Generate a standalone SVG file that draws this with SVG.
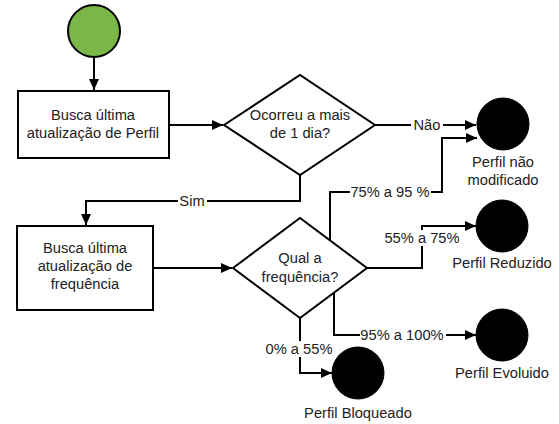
<svg xmlns="http://www.w3.org/2000/svg" width="559" height="424" viewBox="0 0 559 424">
<style>
text{font-family:"Liberation Sans",Arial,sans-serif;font-size:14.7px;fill:#222;text-anchor:middle;dominant-baseline:central}
.shape{fill:#fff;stroke:#000;stroke-width:2}
.end{fill:#000;stroke:#000;stroke-width:1}
.line{fill:none;stroke:#000;stroke-width:2}
.lbl{fill:#fff}
</style>
<defs>
<marker id="arr" markerWidth="12" markerHeight="12" refX="11" refY="6" orient="auto" markerUnits="userSpaceOnUse">
<path d="M0,1 L11,6 L0,11 Z" fill="#000"/>
</marker>
</defs>
<rect width="559" height="424" fill="#fff"/>
<g id="connectors">
<path class="line" d="M94,57 V90" marker-end="url(#arr)"/>
<path class="line" d="M169,125 H223" marker-end="url(#arr)"/>
<path class="line" d="M375,125 H476" marker-end="url(#arr)"/>
<path class="line" d="M300,175 V201 H86 V225" marker-end="url(#arr)"/>
<path class="line" d="M153,268 H232" marker-end="url(#arr)"/>
<path class="line" d="M330,240 V192 H442 V138 H477" marker-end="url(#arr)"/>
<path class="line" d="M367,268 H422 V226 H476" marker-end="url(#arr)"/>
<path class="line" d="M334,293 V335 H476" marker-end="url(#arr)"/>
<path class="line" d="M300,318 V373 H332" marker-end="url(#arr)"/>
<rect class="lbl" x="411" y="117" width="32" height="16"/>
<text x="427" y="125">Não</text>
<rect class="lbl" x="178" y="193" width="29" height="16"/>
<text x="192" y="201">Sim</text>
<rect class="lbl" x="350" y="184" width="81" height="16"/>
<text x="390" y="192">75% a 95 %</text>
<rect class="lbl" x="383" y="230" width="78" height="16"/>
<text x="422" y="238">55% a 75%</text>
<rect class="lbl" x="360" y="327" width="86" height="16"/>
<text x="402" y="335">95% a 100%</text>
<rect class="lbl" x="264" y="341" width="70" height="16"/>
<text x="299" y="349">0% a 55%</text>
</g>
<g id="start"><circle cx="94" cy="31" r="26" fill="#7AB648" stroke="#000" stroke-width="2"/></g>
<g id="box1"><rect class="shape" x="18" y="91" width="151" height="67"/>
<text x="93" y="115">Busca última</text><text x="93" y="133">atualização de Perfil</text></g>
<g id="dec1"><path class="shape" d="M224,125 L300,75 L375,125 L300,175 Z"/>
<text x="300" y="115">Ocorreu a mais</text><text x="300" y="133">de 1 dia?</text></g>
<g id="box2"><rect class="shape" x="17" y="226" width="136" height="84"/>
<text x="85" y="248">Busca última</text><text x="85" y="266">atualização de</text><text x="85" y="284">frequência</text></g>
<g id="dec2"><path class="shape" d="M233,268 L300,218 L367,268 L300,318 Z"/>
<text x="300" y="258">Qual a</text><text x="300" y="277">frequência?</text></g>
<g id="naoMod"><circle class="end" cx="503" cy="124" r="26"/>
<text x="503" y="162">Perfil não</text><text x="503" y="180">modificado</text></g>
<g id="reduzido"><circle class="end" cx="502" cy="226" r="26"/>
<text x="502" y="263">Perfil Reduzido</text></g>
<g id="evoluido"><circle class="end" cx="502" cy="335" r="26"/>
<text x="502" y="373">Perfil Evoluido</text></g>
<g id="bloqueado"><circle class="end" cx="358" cy="373" r="26"/>
<text x="358" y="413">Perfil Bloqueado</text></g>
</svg>
